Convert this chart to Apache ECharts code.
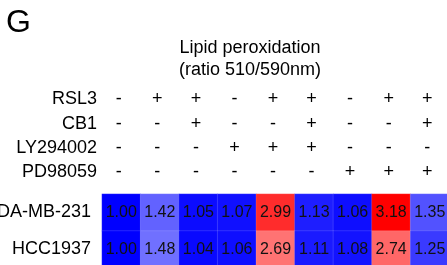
<!DOCTYPE html>
<html>
<head>
<meta charset="utf-8">
<script src="https://cdn.jsdelivr.net/npm/echarts@6/dist/echarts.min.js"></script>
<style>html,body{margin:0;padding:0;background:#fff;}#c{width:447px;height:265px;}</style>
</head>
<body>
<div id="c"></div>
<script>
const conditions = ['c1','c2','c3','c4','c5','c6','c7','c8','c9'];
const cellLines = ['MDA-MB-231','HCC1937'];
const rsl3   = ['-','+','+','-','+','+','-','+','+'];
const cb1    = ['-','-','+','-','-','+','-','-','+'];
const ly294002 = ['-','-','-','+','+','+','-','-','-'];
const pd98059  = ['-','-','-','-','-','-','+','+','+'];
const mdaValues = [1.00,1.42,1.05,1.07,2.99,1.13,1.06,3.18,1.35];
const hccValues = [1.00,1.48,1.04,1.06,2.69,1.11,1.08,2.74,1.25];

const FONT = "'Liberation Sans', Arial, sans-serif";
const data = [];
mdaValues.forEach((v,i)=>data.push([i,0,v]));
hccValues.forEach((v,i)=>data.push([i,1,v]));

function signAxis(labels, name, offset){
  return {
    type:'category', data: labels, position:'top', offset: offset, gridIndex:0,
    axisLine:{show:false}, axisTick:{show:false}, splitLine:{show:false},
    axisLabel:{show:true, margin:0, verticalAlign:'middle', fontSize:18, color:'#000', fontFamily:FONT, padding:[0,5,0,0]},
    name:name, nameLocation:'start', nameGap:5,
    nameTextStyle:{fontSize:18, color:'#000', fontFamily:FONT, align:'right', verticalAlign:'middle'}
  };
}

const chart = echarts.init(document.getElementById('c'), null, {renderer:'canvas'});
chart.setOption({
  animation:false,
  backgroundColor:'#fff',
  title:[
    {text:'G', left:6, top:7, padding:0, textStyle:{fontSize:32, fontWeight:'normal', color:'#000', fontFamily:FONT}},
    {text:'Lipid peroxidation\n(ratio 510/590nm)', left:250, textAlign:'center', top:37, padding:0,
     textStyle:{fontSize:18, fontWeight:'normal', color:'#000', fontFamily:FONT, lineHeight:22}}
  ],
  grid:{left:102, top:194, width:347, height:74, containLabel:false, outerBoundsMode:'none'},
  xAxis:[
    {type:'category', data:conditions, position:'bottom', show:false},
    signAxis(rsl3,'RSL3',95),
    signAxis(cb1,'CB1',70),
    signAxis(ly294002,'LY294002',46),
    signAxis(pd98059,'PD98059',22)
  ],
  yAxis:{type:'category', data:cellLines, inverse:true,
    axisLine:{show:false}, axisTick:{show:false}, splitLine:{show:false},
    axisLabel:{fontSize:18, color:'#000', fontFamily:FONT, margin:11}},
  visualMap:{show:false, type:'continuous', min:1.0, max:3.18, dimension:2,
    inRange:{color:['#0000ff','#ffffff','#ff0000']}},
  series:[{
    type:'heatmap', xAxisIndex:0, yAxisIndex:0, data:data,
    itemStyle:{borderColor:'rgba(255,255,255,0.25)', borderWidth:0.5},
    label:{show:true, fontSize:16, color:'#111', fontFamily:FONT,
      formatter:p=>p.value[2].toFixed(2)}
  }]
});
</script>
</body>
</html>
